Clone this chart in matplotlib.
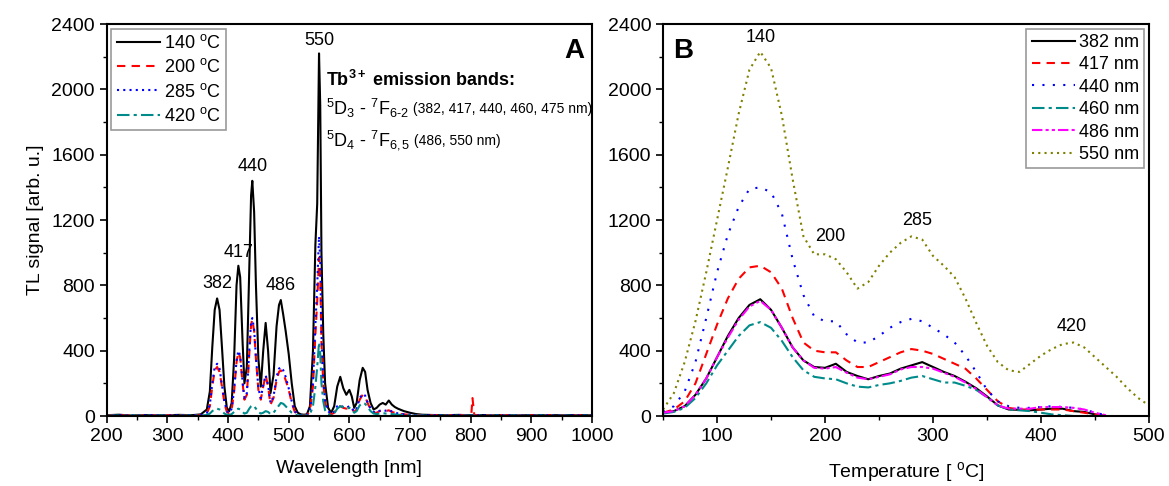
import matplotlib
matplotlib.use("Agg")
import matplotlib.pyplot as plt
import numpy as np

plt.rcParams['font.family'] = ['Liberation Sans', 'DejaVu Sans']
plt.rcParams['mathtext.fontset'] = 'custom'
plt.rcParams['mathtext.rm'] = 'Liberation Sans'
plt.rcParams['mathtext.it'] = 'Liberation Sans:italic'
plt.rcParams['mathtext.bf'] = 'Liberation Sans:bold'

nan = np.nan

# ---------------- panel A: TL emission spectra ----------------
wavelength = [200, 220, 240, 260, 280, 300, 320, 340, 355, 365,
              370, 374, 378, 382, 386, 390, 394, 398, 402, 406,
              410, 414, 417, 420, 424, 427, 431, 435, 438, 440,
              443, 446, 450, 454, 458, 462, 466, 470, 475, 480,
              484, 487, 491, 495, 500, 505, 510, 515, 520, 525,
              530, 535, 540, 544, 547, 550, 552, 554, 557, 560,
              565, 570, 575, 580, 585, 590, 595, 600, 604, 608,
              612, 617, 622, 626, 630, 635, 640, 645, 650, 655,
              660, 665, 670, 675, 680, 690, 700, 710, 720, 740,
              760, 780, 798, 801, 803, 806, 820, 850, 880, 910,
              940, 970, 1000]

spec_140 = [5, 8, 3, 6, 4, 5, 7, 5, 10, 40,
            150, 420, 650, 720, 650, 420, 180, 50, 30, 80,
            350, 800, 920, 850, 450, 200, 300, 900, 1350, 1440,
            1250, 800, 350, 180, 400, 570, 400, 140, 250, 550,
            680, 710, 620, 520, 380, 200, 60, 20, 10, 8,
            10, 60, 400, 1050, 1300, 2220, 1900, 1000, 500, 200,
            50, 20, 60, 180, 240, 170, 130, 160, 120, 50,
            80, 220, 295, 270, 160, 80, 40, 50, 70, 80,
            70, 95, 70, 55, 45, 30, 20, 12, 8, 6,
            5, 7, 5, 6, 5, 4, 6, 5, 4, 6,
            5, 6, 5]

spec_200 = [3, 6, 2, 5, 3, 6, 4, 3, 5, 15,
            60, 180, 280, 300, 270, 180, 80, 25, 15, 40,
            150, 330, 390, 360, 200, 100, 130, 380, 560, 590,
            520, 350, 160, 100, 180, 250, 180, 70, 110, 220,
            270, 280, 260, 220, 160, 80, 25, 10, 5, 4,
            5, 30, 180, 500, 700, 970, 850, 450, 200, 80,
            25, 10, 20, 55, 60, 50, 45, 55, 45, 25,
            40, 100, 130, 120, 80, 40, 20, 20, 30, 35,
            30, 35, 25, 20, 15, 10, 8, 6, 5, 5,
            4, 6, 4, 6, 110, 5, 5, 6, 3, 5,
            4, 5, 4]

spec_285 = [4, 5, 3, 4, 6, 4, 5, 4, 6, 18,
            70, 200, 300, 320, 290, 190, 90, 30, 18, 45,
            160, 340, 400, 370, 210, 110, 140, 400, 580, 600,
            530, 360, 170, 110, 190, 250, 190, 80, 120, 240,
            290, 300, 280, 240, 170, 90, 30, 12, 6, 5,
            6, 35, 200, 560, 800, 1100, 950, 500, 220, 90,
            30, 12, 25, 60, 65, 55, 50, 60, 50, 28,
            45, 110, 135, 125, 85, 45, 25, 22, 32, 38,
            32, 38, 28, 22, 16, 11, 8, 6, 5, 5,
            4, 5, 4, 5, 4, 5, 4, 5, 4, 5,
            4, 5, 4]

spec_420 = [2, 3, 2, 3, 2, 3, 2, 3, 3, 6,
            15, 30, 40, 45, 40, 30, 15, 8, 6, 12,
            25, 40, 45, 40, 25, 15, 20, 45, 60, 65,
            60, 45, 25, 15, 20, 30, 25, 12, 20, 45,
            65, 80, 75, 60, 40, 20, 8, 4, 3, 3,
            3, 10, 60, 180, 300, 450, 380, 200, 90, 35,
            12, 5, 15, 45, 60, 55, 45, 50, 40, 20,
            30, 65, 80, 75, 55, 30, 15, 12, 15, 18,
            15, 18, 12, 10, 8, 5, 4, 3, 3, 2,
            2, 3, 2, 3, 2, 3, 2, 3, 2, 3,
            2, 3, 2]

spec_labels = ["140 $^{\\mathrm{o}}$C", "200 $^{\\mathrm{o}}$C",
               "285 $^{\\mathrm{o}}$C", "420 $^{\\mathrm{o}}$C"]
peak_names = ["382", "417", "440", "486", "550"]
peak_wl = [382, 417, 440, 486, 550]
peak_label_y = [810, 1000, 1530, 800, 2300]

# ---------------- panel B: glow curves ----------------
temperature = [50, 60, 70, 80, 90, 100, 110, 120, 130, 140,
               150, 160, 170, 180, 190, 200, 210, 220, 230, 240,
               250, 260, 270, 280, 290, 300, 310, 320, 330, 340,
               350, 360, 370, 380, 390, 400, 410, 420, 430, 440,
               450, 460, 470, 480, 490, 500]

glow_382 = [20, 30, 60, 130, 230, 360, 490, 600, 680, 715,
            650, 540, 420, 340, 300, 295, 320, 270, 245, 225,
            245, 260, 290, 310, 330, 300, 270, 245, 210, 170,
            120, 65, 40, 38, 35, 40, 45, 45, 30, 25,
            10, 0, nan, nan, nan, nan]
glow_417 = [20, 40, 90, 200, 380, 560, 720, 840, 910, 920,
            880, 780, 600, 450, 400, 390, 390, 340, 300, 300,
            330, 360, 390, 410, 400, 380, 350, 320, 290, 230,
            160, 90, 50, 40, 40, 40, 40, 40, 30, 20,
            10, 0, nan, nan, nan, nan]
glow_440 = [25, 60, 150, 330, 600, 880, 1110, 1280, 1390, 1400,
            1370, 1240, 960, 740, 610, 580, 580, 500, 450, 450,
            490, 540, 575, 595, 580, 540, 500, 450, 370, 270,
            160, 90, 60, 50, 50, 55, 60, 55, 50, 40,
            20, 5, nan, nan, nan, nan]
glow_460 = [15, 25, 50, 110, 200, 310, 400, 490, 555, 575,
            540, 460, 360, 280, 240, 230, 225, 200, 180, 175,
            190, 200, 215, 235, 245, 225, 205, 205, 185, 160,
            115, 65, 40, 35, 30, 20, 10, 5, 0, nan,
            nan, nan, nan, nan, nan, nan]
glow_486 = [20, 30, 60, 130, 230, 360, 480, 590, 670, 705,
            650, 540, 420, 340, 295, 290, 300, 265, 235, 225,
            240, 255, 285, 300, 300, 290, 265, 240, 205, 165,
            115, 65, 45, 45, 45, 55, 55, 55, 50, 40,
            20, 5, nan, nan, nan, nan]
glow_550 = [40, 140, 330, 580, 880, 1200, 1520, 1850, 2120, 2230,
            2130, 1840, 1450, 1100, 990, 990, 960, 880, 780, 820,
            920, 1000, 1060, 1100, 1080, 980, 920, 850, 720, 570,
            430, 330, 280, 270, 320, 370, 410, 440, 450, 420,
            360, 300, 240, 170, 110, 65]

glow_labels = ["382 nm", "417 nm", "440 nm", "460 nm", "486 nm", "550 nm"]
glow_peak_names = ["140", "200", "285", "420"]
glow_peak_t = [140, 205, 285, 428]
glow_peak_y = [2320, 1100, 1195, 545]

# ---------------- figure ----------------
fig = plt.figure(figsize=(11.69, 4.86), dpi=100)
axA = fig.add_axes([0.0913, 0.144, 0.4151, 0.8066])
axB = fig.add_axes([0.5672, 0.144, 0.4157, 0.8066])

FS = 14

def style_axis(ax):
    for s in ax.spines.values():
        s.set_linewidth(1.5)
    ax.tick_params(which='major', direction='out', length=5, width=1.2,
                   labelsize=FS, top=False, right=False)
    ax.tick_params(which='minor', direction='out', length=3, width=1.0,
                   top=False, right=False)

# panel A
wl = np.array(wavelength)
axA.plot(wl, spec_140, color='black', lw=1.5, label=spec_labels[0])
axA.plot(wl, spec_200, color='red', lw=1.5, ls=(0, (4, 3)), label=spec_labels[1])
axA.plot(wl, spec_285, color='blue', lw=1.5, ls=(0, (1, 2)), label=spec_labels[2])
axA.plot(wl, spec_420, color='#008b8b', lw=1.5, ls=(0, (6, 2, 1.5, 2)), label=spec_labels[3])

axA.set_xlim(200, 1000)
axA.set_ylim(0, 2400)
axA.set_xticks(np.arange(200, 1001, 100))
axA.set_xticks(np.arange(250, 1000, 100), minor=True)
axA.set_yticks(np.arange(0, 2401, 400))
axA.set_yticks(np.arange(200, 2400, 400), minor=True)
style_axis(axA)
axA.set_xlabel("Wavelength [nm]", fontsize=FS, labelpad=11)
axA.set_ylabel("TL signal [arb. u.]", fontsize=FS, labelpad=5)

for name, w, yl in zip(peak_names, peak_wl, peak_label_y):
    axA.text(w, yl, name, fontsize=FS - 1, ha='center', va='center')

axA.text(0.985, 0.93, "A", transform=axA.transAxes, fontsize=20,
         fontweight='bold', ha='right', va='center')

t1 = axA.text(561, 2060, "Tb$^{\\mathbf{3+}}$ emission bands:", fontsize=FS - 1,
              fontweight='bold', ha='left', va='center')
t2 = axA.text(561, 1885, "$^{5}$D$_{3}$ - $^{7}$F$_{6\\text{-}2}$", fontsize=FS - 1,
              ha='left', va='center')
axA.annotate(" (382, 417, 440, 460, 475 nm)", xy=(1, 0.45), xycoords=t2,
             fontsize=10, ha='left', va='center')
t3 = axA.text(561, 1690, "$^{5}$D$_{4}$ - $^{7}$F$_{6,5}$", fontsize=FS - 1,
              ha='left', va='center')
axA.annotate(" (486, 550 nm)", xy=(1, 0.45), xycoords=t3,
             fontsize=10, ha='left', va='center')

legA = axA.legend(loc='upper left', fontsize=FS - 1, frameon=True, fancybox=False,
                  edgecolor='gray', handlelength=2.4, handletextpad=0.2,
                  labelspacing=0.35, borderpad=0.3, borderaxespad=0.25)
legA.get_frame().set_linewidth(1.2)

# panel B
t = np.array(temperature)
axB.plot(t, glow_382, color='black', lw=1.5, label=glow_labels[0])
axB.plot(t, glow_417, color='red', lw=1.5, ls=(0, (4, 3)), label=glow_labels[1])
axB.plot(t, glow_440, color='blue', lw=1.5, ls=(0, (1, 4)), label=glow_labels[2])
axB.plot(t, glow_460, color='#008b8b', lw=1.5, ls=(0, (6, 2, 1.5, 2)), label=glow_labels[3])
axB.plot(t, glow_486, color='magenta', lw=1.5, ls=(0, (5, 1.5, 1.5, 1.5, 1.5, 1.5)), label=glow_labels[4])
axB.plot(t, glow_550, color='#808000', lw=1.5, ls=(0, (1, 2)), label=glow_labels[5])

axB.set_xlim(50, 500)
axB.set_ylim(0, 2400)
axB.set_xticks(np.arange(100, 501, 100))
axB.set_xticks(np.arange(50, 500, 100), minor=True)
axB.set_yticks(np.arange(0, 2401, 400))
axB.set_yticks(np.arange(200, 2400, 400), minor=True)
style_axis(axB)
axB.set_xlabel("Temperature [ $^{\\mathrm{o}}$C]", fontsize=FS, labelpad=11)

for name, tp, yl in zip(glow_peak_names, glow_peak_t, glow_peak_y):
    axB.text(tp, yl, name, fontsize=FS - 1, ha='center', va='center')

axB.text(0.02, 0.93, "B", transform=axB.transAxes, fontsize=20,
         fontweight='bold', ha='left', va='center')

legB = axB.legend(loc='upper right', fontsize=FS - 1, frameon=True, fancybox=False,
                  edgecolor='gray', handlelength=2.4, handletextpad=0.2,
                  labelspacing=0.3, borderpad=0.3, borderaxespad=0.25)
legB.get_frame().set_linewidth(1.2)

fig.savefig("out.png", dpi=100)
